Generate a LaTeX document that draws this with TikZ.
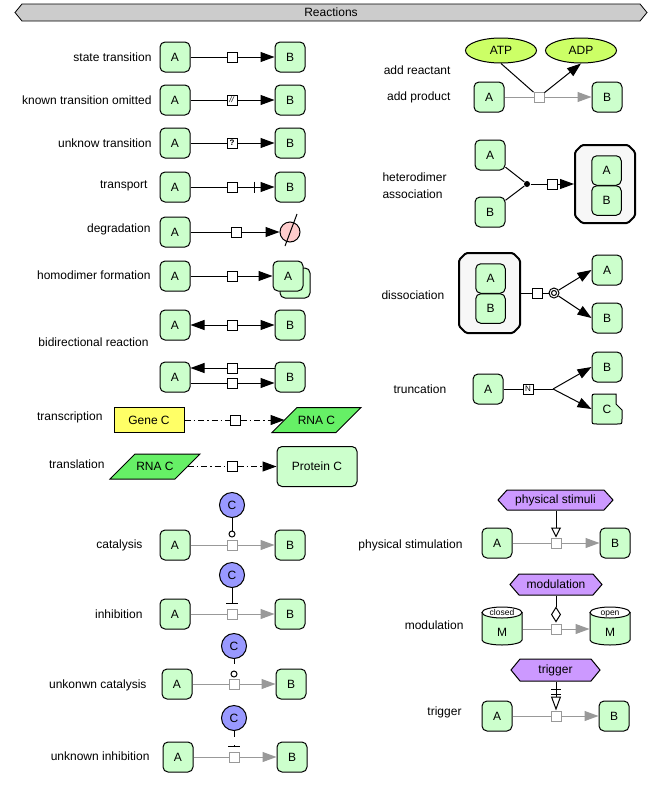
\documentclass[tikz,border=0pt]{standalone}
\usepackage{fontspec}
\setmainfont{Liberation Sans}
\usetikzlibrary{arrows.meta,shapes.geometric}
\definecolor{spg}{HTML}{CCFFCC}
\definecolor{geneY}{HTML}{FFFF66}
\definecolor{rnaG}{HTML}{66F066}
\definecolor{atpc}{HTML}{CCFF66}
\definecolor{cblue}{HTML}{9999FF}
\definecolor{purp}{HTML}{CC99FF}
\definecolor{pinkd}{HTML}{FFCCCC}
\definecolor{cxf}{HTML}{F7F7F7}
\definecolor{hdrc}{HTML}{CCCCCC}
\definecolor{lg}{HTML}{999999}
\begin{document}
\begin{tikzpicture}[x=1pt,y=-1pt,line width=1pt,
  font=\fontsize{12}{14}\selectfont,
  sp/.style={draw, fill=spg, rounded corners=5pt, minimum width=30pt, minimum height=30pt, inner sep=0pt},
  spi/.style={sp, minimum width=29.5pt, minimum height=29.5pt},
  pr/.style={draw, fill=white, rectangle, minimum size=10pt, inner sep=0pt, font=\fontsize{8}{9}\selectfont},
  gpr/.style={pr, draw=lg},
  lbl/.style={anchor=east, inner sep=0pt},
  lblw/.style={anchor=west, inner sep=0pt},
  arr/.style={-{Triangle[length=14pt,width=10pt]}},
  garr/.style={draw=lg,-{Triangle[length=14pt,width=10pt]}},
  gl/.style={draw=lg},
  dd/.style={dash pattern=on 6pt off 3pt on 1.5pt off 3pt},
  unk/.style={dash pattern=on 5pt off 10pt},
  cnode/.style={draw, fill=cblue, circle, minimum size=25pt, inner sep=0pt},
  ocirc/.style={draw, fill=white, circle, minimum size=6pt, inner sep=0pt},
  blank/.style={rectangle, inner sep=0pt},
  cyltxt/.style={font=\fontsize{8.5}{9}\selectfont, inner sep=0pt, anchor=base}
]
\useasboundingbox (0,0) rectangle (662,785);

% header
\draw[fill=hdrc, line width=0.8pt] (15,12.5) -- (22,4) -- (640,4) -- (647,12.5) -- (640,21) -- (22,21) -- cycle;
\node (hdr) at (331,12.5) {Reactions};

% ---------- left column ----------
\node[lbl] (l1) at (152,57) {state transition};
\node[sp] (a1) at (175,57) {A};
\node[pr] (p1) at (232,57) {};
\node[sp] (b1) at (290,57) {B};
\draw (a1) -- (p1); \draw[arr] (p1) -- (b1);

\node[lbl] (l2) at (152,100) {known transition omitted};
\node[sp] (a2) at (175,100) {A};
\node[pr] (p2) at (232,100) {\textit{//}};
\node[sp] (b2) at (290,100) {B};
\draw (a2) -- (p2); \draw[arr] (p2) -- (b2);

\node[lbl] (l3) at (152,143) {unknow transition};
\node[sp] (a3) at (175,143) {A};
\node[pr] (p3) at (232,143) {\textbf{?}};
\node[sp] (b3) at (290,143) {B};
\draw (a3) -- (p3); \draw[arr] (p3) -- (b3);

\node[lbl] (l4) at (148,186) {transport};
\node[sp] (a4) at (175,187) {A};
\node[pr] (p4) at (232,187) {};
\node[sp] (b4) at (290,187) {B};
\draw (a4) -- (p4); \draw[arr] (p4) -- (b4);
\draw ([shift={(-20pt,5.5pt)}]b4.west) -- ++(0,11);

\node[lbl] (l5) at (151,229) {degradation};
\node[sp] (a5) at (175,232) {A};
\node[pr] (p5) at (236,232) {};
\node[draw, circle, fill=pinkd, minimum size=20pt, inner sep=0pt] (dg) at (290,232) {};
\draw (a5) -- (p5); \draw[arr] (p5) -- (dg);
\draw ([shift={(7,-18)}]dg.center) -- ([shift={(-5,14)}]dg.center);

\node[lbl] (l6) at (151,275) {homodimer formation};
\node[sp] (a6) at (175,276) {A};
\node[pr] (p6) at (232,276) {};
\node[sp] (b6b) at (295,283) {};
\node[sp] (b6) at (288,276) {A};
\draw (a6) -- (p6); \draw[arr] (p6) -- (b6);

\node[sp] (a7) at (175,325) {A};
\node[pr] (p7) at (232,325) {};
\node[sp] (b7) at (290,325) {B};
\draw[arr] (p7) -- (a7); \draw[arr] (p7) -- (b7);
\node[lbl] (l7) at (149,342) {bidirectional reaction};

\node[sp] (a8) at (175,377) {A};
\node[sp] (b8) at (290,377) {B};
\node[pr] (p8a) at (232,368) {};
\node[pr] (p8b) at (232,383) {};
\draw (b8.west |- p8a) -- (p8a); \draw[arr] (p8a) -- (a8.east |- p8a);
\draw (a8.east |- p8b) -- (p8b); \draw[arr] (p8b) -- (b8.west |- p8b);

\node[lbl] (l9) at (103,417) {transcription};
\node[draw, fill=geneY, minimum width=70pt, minimum height=25pt, inner sep=0pt] (gene) at (149,420) {Gene C};
\node[pr] (p9) at (235,420) {};
\draw[fill=rnaG] (272,432.5) -- (297,407.5) -- (361,407.5) -- (336,432.5) -- cycle;
\node[blank] (rna1) at (316.5,420) {RNA C};
\coordinate (rna1in) at (284.5,420);
\draw[dd] (gene) -- (p9); \draw[dd,arr] (p9) -- (rna1in);

\node[lbl] (l10) at (105,464) {translation};
\draw[fill=rnaG] (110,479) -- (135,454) -- (200,454) -- (175,479) -- cycle;
\node[blank] (rna2) at (155,466.5) {RNA C};
\coordinate (rna2out) at (187.5,466.5);
\node[pr] (p10) at (232,466.5) {};
\node[sp, minimum width=80pt, minimum height=40pt] (prot) at (317,466.5) {Protein C};
\draw[dd] (rna2out) -- (p10); \draw[dd,arr] (p10) -- (prot);

\node[lbl] (l11) at (143,545) {catalysis};
\node[cnode] (c11) at (232,505) {C};
\node[ocirc] (o11) at (232,534) {};
\node[sp] (a11) at (175,545) {A};
\node[gpr] (p11) at (232,545) {};
\node[sp] (b11) at (290,545) {B};
\draw (c11) -- (o11);
\draw[gl] (a11) -- (p11); \draw[garr] (p11) -- (b11);

\node[lbl] (l12) at (143,614) {inhibition};
\node[cnode] (c12) at (232,575) {C};
\coordinate (bar12) at (232,603);
\node[sp] (a12) at (175,614) {A};
\node[gpr] (p12) at (232,614) {};
\node[sp] (b12) at (290,614) {B};
\draw (c12) -- (bar12);
\draw ([xshift=-6pt]bar12) -- ([xshift=6pt]bar12);
\draw[gl] (a12) -- (p12); \draw[garr] (p12) -- (b12);

\node[lbl] (l13) at (147,685) {unkonwn catalysis};
\node[cnode] (c13) at (234,646) {C};
\node[ocirc] (o13) at (234,674) {};
\node[sp] (a13) at (177,684) {A};
\node[gpr] (p13) at (234,684) {};
\node[sp] (b13) at (291,684) {B};
\draw[unk] (c13) -- (o13);
\draw[gl] (a13) -- (p13); \draw[garr] (p13) -- (b13);

\node[lbl] (l14) at (150,756) {unknown inhibition};
\node[cnode] (c14) at (234,718) {C};
\coordinate (bar14) at (234,746);
\node[sp] (a14) at (178,757) {A};
\node[gpr] (p14) at (234,757) {};
\node[sp] (b14) at (292,757) {B};
\draw[dash pattern=on 6pt off 8pt] (c14) -- (bar14);
\draw ([xshift=-6pt]bar14) -- ([xshift=6pt]bar14);
\draw[gl] (a14) -- (p14); \draw[garr] (p14) -- (b14);

% ---------- right column ----------
\node[lbl] (r1) at (451,70) {add reactant};
\node[lbl] (r2) at (451,97) {add product};
\node[draw, ellipse, fill=atpc, minimum width=71pt, minimum height=25pt, inner sep=0pt] (atp) at (501,50.5) {ATP};
\node[draw, ellipse, fill=atpc, minimum width=71pt, minimum height=25pt, inner sep=0pt] (adp) at (581,50.5) {ADP};
\node[sp] (ar) at (489,97) {A};
\node[gpr] (prr) at (539,97) {};
\node[sp] (br) at (607,97) {B};
\draw[gl] (ar) -- (prr); \draw[garr] (prr) -- (br);
\draw (atp.south) -- (prr);
\draw[arr] (prr) -- (adp.south);

\node[lblw] (r3) at (382,177) {heterodimer};
\node[lblw] (r4) at (382,194) {association};
\node[sp] (ha) at (490,155) {A};
\node[sp] (hb) at (490,212) {B};
\node[circle, fill, minimum size=6pt, inner sep=0pt] (dot) at (527,184) {};
\node[pr] (ph) at (552,184) {};
\draw[line width=2pt, fill=cxf, rounded corners=1.5pt] (582,145) -- (628,145) -- (635,152) -- (635,216) -- (628,223) -- (582,223) -- (575,216) -- (575,152) -- cycle;
\node[blank, minimum width=61pt, minimum height=79pt] (cx1) at (605,184) {};
\node[spi] (cxa) at (606.5,170.5) {A};
\node[spi] (cxb) at (606.5,200.5) {B};
\draw (ha) -- (dot); \draw (hb) -- (dot);
\draw (dot) -- (ph); \draw[arr] (ph) -- (cx1);

\node[lblw] (r5) at (381,295) {dissociation};
\draw[line width=2pt, fill=cxf, rounded corners=1.5pt] (466,253) -- (513,253) -- (520,260) -- (520,326) -- (513,333) -- (466,333) -- (459,326) -- (459,260) -- cycle;
\node[blank, minimum width=62pt, minimum height=81pt] (cx2) at (489.5,293) {};
\node[spi] (cx2a) at (490.5,278.5) {A};
\node[spi] (cx2b) at (490.5,308.5) {B};
\node[pr] (pd) at (537,293) {};
\node[draw, circle, fill=white, minimum size=10pt, inner sep=0pt] (dc) at (554,293) {};
\draw (dc.center) circle[radius=2.5];
\node[sp] (da) at (607,270) {A};
\node[sp] (db) at (607,318) {B};
\draw (cx2) -- (pd); \draw (pd) -- (dc);
\draw[arr] (dc) -- (da.west); \draw[arr] (dc) -- (db.west);

\node[lblw] (r6) at (393,389) {truncation};
\node[sp] (ta) at (488,389) {A};
\node[pr] (pn) at (528,389) {N};
\coordinate (tbr) at (553,389);
\node[sp] (tb) at (607,367) {B};
\draw[fill=spg] (597,394) -- (616,394) -- (616,404) -- (622,410) -- (622,419)
   .. controls (622,424) .. (617,424) -- (597,424)
   .. controls (592,424) .. (592,419) -- (592,399)
   .. controls (592,394) .. (597,394) -- cycle;
\node[blank, minimum width=30pt, minimum height=30pt] (tc) at (607,409) {C};
\draw (ta) -- (pn); \draw (pn) -- (tbr);
\draw[arr] (tbr) -- (tb.west); \draw[arr] (tbr) -- (tc.west);

\node[lbl] (r7) at (463,545) {physical stimulation};
\draw[fill=purp] (498,500) -- (507,490) -- (604,490) -- (613,500) -- (604,510) -- (507,510) -- cycle;
\node[blank, minimum width=115pt, minimum height=20pt] (hs) at (555.5,500) {physical stimuli};
\node[sp] (pa) at (497,543) {A};
\node[gpr] (pp) at (556,543) {};
\node[sp] (pb) at (615,543) {B};
\draw[gl] (pa) -- (pp); \draw[garr] (pp) -- (pb);
\draw[-{Triangle[open,length=10pt,width=10pt]}] (hs.south -| pp) -- (pp.north);

\node[lbl] (r8) at (464,625) {modulation};
\draw[fill=purp] (510,584.5) -- (519,574) -- (593,574) -- (602,584.5) -- (593,595) -- (519,595) -- cycle;
\node[blank, minimum width=92pt, minimum height=21pt] (hm) at (556,584.5) {modulation};
\draw[fill=spg] (482,612.5) -- (482,640) arc[start angle=180, end angle=0, x radius=20, y radius=5] -- (522,612.5) -- cycle;
\draw[fill=white] (502,612.5) ellipse[x radius=20, y radius=5.5];
\node[cyltxt] (mct) at (502,615.5) {closed};
\node[blank, minimum width=40pt, minimum height=33pt] (mc) at (502,629) {};
\node[inner sep=0pt] (mcm) at (502,632) {M};
\draw[fill=spg] (590,612.5) -- (590,640) arc[start angle=180, end angle=0, x radius=20, y radius=5] -- (630,612.5) -- cycle;
\draw[fill=white] (610,612.5) ellipse[x radius=20, y radius=5.5];
\node[cyltxt] (mot) at (610,615.5) {open};
\node[blank, minimum width=40pt, minimum height=33pt] (mo) at (610,629) {};
\node[inner sep=0pt] (mom) at (610,632) {M};
\node[gpr] (pm) at (556,629) {};
\draw[gl] (mc.east |- pm) -- (pm); \draw[garr] (pm) -- (mo.west |- pm);
\draw[-{Diamond[open,length=16pt,width=10pt]}] (hm.south -| pm) -- ([yshift=1pt]pm.north);

\node[lbl] (r9) at (462,712) {trigger};
\draw[fill=purp] (511,670) -- (520,659) -- (591,659) -- (600,670) -- (591,681) -- (520,681) -- cycle;
\node[blank, minimum width=89pt, minimum height=22pt] (ht) at (555.5,670) {trigger};
\node[sp] (ta2) at (497,716) {A};
\node[gpr] (pt) at (556,716) {};
\node[sp] (tb2) at (614,716) {B};
\draw[gl] (ta2) -- (pt); \draw[garr] (pt) -- (tb2);
\draw[-{Triangle[open,length=14pt,width=10pt]}] (ht.south -| pt) -- (pt.north);
\draw ([xshift=-5pt,yshift=21pt]pt.north) -- ++(10,0);
\draw ([xshift=-5pt,yshift=16.5pt]pt.north) -- ++(10,0);
\end{tikzpicture}
\end{document}
